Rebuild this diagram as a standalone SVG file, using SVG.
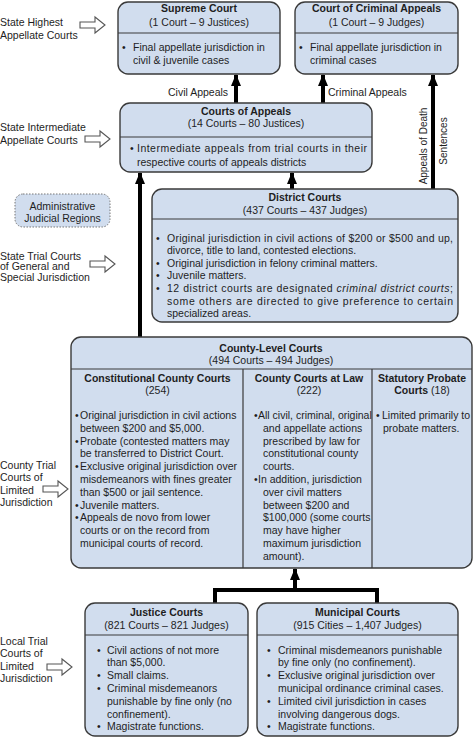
<svg xmlns="http://www.w3.org/2000/svg" width="474" height="738" viewBox="0 0 474 738">
<defs>
<style>
text{font-family:"Liberation Sans",Arial,sans-serif;font-size:10.5px;fill:#1e1e1e}
.b{font-weight:bold}
.c{text-anchor:middle}
.box{fill:#d1ddee;stroke:#3a3a3a;stroke-width:1.4}
.div{stroke:#3a3a3a;stroke-width:1.2;fill:none}
.conn{stroke:#000;stroke-width:4;fill:none}
.open{fill:#fff;stroke:#555;stroke-width:1.1}
</style>
<marker id="ah" viewBox="0 0 12 10" refX="11" refY="5" markerWidth="12" markerHeight="10" markerUnits="userSpaceOnUse" orient="auto">
<path d="M0,0 L12,5 L0,10 Z" fill="#000"/>
</marker>
<path id="oa" d="M0,-3 L15,-3 L15,-8 L25,0 L15,8 L15,3 L0,3 Z"/>
</defs>

<g id="labels">
<text x="0" y="26">State Highest</text>
<text x="0" y="39">Appellate Courts</text>
<use href="#oa" class="open" x="80" y="25"/>
<text x="0" y="131">State Intermediate</text>
<text x="0" y="144">Appellate Courts</text>
<use href="#oa" class="open" x="85" y="139"/>
<text x="0" y="259.5">State Trial Courts</text>
<text x="0" y="270">of General and</text>
<text x="0" y="281">Special Jurisdiction</text>
<use href="#oa" class="open" x="90" y="264"/>
<text x="0" y="468.5">County Trial</text>
<text x="0" y="481">Courts of</text>
<text x="0" y="493.5">Limited</text>
<text x="0" y="505.5">Jurisdiction</text>
<use href="#oa" class="open" x="43" y="489"/>
<text x="0" y="644.5">Local Trial</text>
<text x="0" y="657">Courts of</text>
<text x="0" y="670">Limited</text>
<text x="0" y="682">Jurisdiction</text>
<use href="#oa" class="open" x="47" y="667"/>
</g>

<g id="admin-regions">
<rect x="15" y="194" width="95" height="33" rx="8" fill="#d1ddee" stroke="#777" stroke-width="1" stroke-dasharray="1.5,1.5"/>
<text class="c" x="62.5" y="209.5">Administrative</text>
<text class="c" x="62.5" y="221.5">Judicial Regions</text>
</g>

<g id="connectors">
<line class="conn" x1="236" y1="103" x2="236" y2="75" marker-end="url(#ah)"/>
<line class="conn" x1="323" y1="103" x2="323" y2="75" marker-end="url(#ah)"/>
<line class="conn" x1="433" y1="189" x2="433" y2="75" marker-end="url(#ah)"/>
<line class="conn" x1="140" y1="337" x2="140" y2="173" marker-end="url(#ah)"/>
<line class="conn" x1="292" y1="189" x2="292" y2="173" marker-end="url(#ah)"/>
<polyline class="conn" points="215,603 215,590 377,590 377,603"/>
<line class="conn" x1="295" y1="590" x2="295" y2="569" marker-end="url(#ah)"/>
<text x="168" y="96">Civil Appeals</text>
<text x="328" y="96">Criminal Appeals</text>
<text class="c" style="font-size:10px" transform="translate(427,146) rotate(-90)">Appeals of Death</text>
<text class="c" style="font-size:10px" transform="translate(447,141) rotate(-90)">Sentences</text>
</g>

<g id="supreme-court">
<rect class="box" x="118" y="2" width="162" height="72" rx="10"/>
<line class="div" x1="118" y1="33" x2="280" y2="33"/>
<text class="c b" x="199" y="12">Supreme Court</text>
<text class="c" x="199" y="26">(1 Court – 9 Justices)</text>
<text x="122" y="50.5">•</text>
<text x="133" y="50.5">Final appellate jurisdiction in</text>
<text x="133" y="64">civil &amp; juvenile cases</text>
</g>

<g id="court-criminal-appeals">
<rect class="box" x="295" y="2" width="163" height="72" rx="10"/>
<line class="div" x1="295" y1="33" x2="458" y2="33"/>
<text class="c b" x="376.5" y="12">Court of Criminal Appeals</text>
<text class="c" x="376.5" y="26">(1 Court – 9 Judges)</text>
<text x="299" y="50.5">•</text>
<text x="310" y="50.5">Final appellate jurisdiction in</text>
<text x="310" y="64">criminal cases</text>
</g>

<g id="courts-of-appeals">
<rect class="box" x="120" y="103" width="252" height="69" rx="10"/>
<line class="div" x1="120" y1="137" x2="372" y2="137"/>
<text class="c b" x="246" y="115">Courts of Appeals</text>
<text class="c" x="246" y="127">(14 Courts – 80 Justices)</text>
<text x="130" y="152">•</text>
<text x="137" y="152" textLength="230" lengthAdjust="spacing">Intermediate appeals from trial courts in their</text>
<text x="137" y="165.5">respective courts of appeals districts</text>
</g>

<g id="district-courts">
<rect class="box" x="152" y="189" width="306" height="133" rx="10"/>
<line class="div" x1="152" y1="219" x2="458" y2="219"/>
<text class="c b" x="305" y="201">District Courts</text>
<text class="c" x="305" y="214">(437 Courts – 437 Judges)</text>
<text x="156" y="241.5">•</text>
<text x="167" y="241.5" textLength="286" lengthAdjust="spacing">Original jurisdiction in civil actions of $200 or $500 and up,</text>
<text x="167" y="254">divorce, title to land, contested elections.</text>
<text x="156" y="266.5">•</text>
<text x="167" y="266.5">Original jurisdiction in felony criminal matters.</text>
<text x="156" y="279">•</text>
<text x="167" y="279">Juvenile matters.</text>
<text x="156" y="292">•</text>
<text x="167" y="292" textLength="286" lengthAdjust="spacing">12 district courts are designated <tspan font-style="italic">criminal district courts</tspan>;</text>
<text x="167" y="304.5" textLength="286" lengthAdjust="spacing">some others are directed to give preference to certain</text>
<text x="167" y="317">specialized areas.</text>
</g>

<g id="county-level-courts">
<rect class="box" x="71" y="337" width="401" height="231" rx="10"/>
<line class="div" x1="71" y1="369" x2="472" y2="369"/>
<line class="div" x1="243" y1="369" x2="243" y2="568"/>
<line class="div" x1="372" y1="369" x2="372" y2="568"/>
<text class="c b" x="271" y="352">County-Level Courts</text>
<text class="c" x="271" y="364">(494 Courts – 494 Judges)</text>

<text class="c b" x="157.5" y="382">Constitutional County Courts</text>
<text class="c" x="157.5" y="394">(254)</text>
<text x="75" y="419">•</text>
<text x="80" y="419">Original jurisdiction in civil actions</text>
<text x="80" y="431.8">between $200 and $5,000.</text>
<text x="75" y="444.6">•</text>
<text x="80" y="444.6">Probate (contested matters may</text>
<text x="80" y="457.4">be transferred to District Court.</text>
<text x="75" y="470.2">•</text>
<text x="80" y="470.2">Exclusive original jurisdiction over</text>
<text x="80" y="483">misdemeanors with fines greater</text>
<text x="80" y="495.8">than $500 or jail sentence.</text>
<text x="75" y="508.6">•</text>
<text x="80" y="508.6">Juvenile matters.</text>
<text x="75" y="521.4">•</text>
<text x="80" y="521.4">Appeals de novo from lower</text>
<text x="80" y="534.2">courts or on the record from</text>
<text x="80" y="547">municipal courts of record.</text>

<text class="c b" x="309" y="382">County Courts at Law</text>
<text class="c" x="309" y="394">(222)</text>
<text x="254" y="419">•</text>
<text x="258" y="419">All civil, criminal, original</text>
<text x="263" y="431.8">and appellate actions</text>
<text x="263" y="444.6">prescribed by law for</text>
<text x="263" y="457.4">constitutional county</text>
<text x="263" y="470.2">courts.</text>
<text x="254" y="483">•</text>
<text x="258" y="483">In addition, jurisdiction</text>
<text x="263" y="495.8">over civil matters</text>
<text x="263" y="508.6">between $200 and</text>
<text x="263" y="521.4">$100,000 (some courts</text>
<text x="263" y="534.2">may have higher</text>
<text x="263" y="547">maximum jurisdiction</text>
<text x="263" y="559.8">amount).</text>

<text class="c b" x="422" y="382">Statutory Probate</text>
<text class="c" x="422" y="394"><tspan font-weight="bold">Courts</tspan> (18)</text>
<text x="376" y="419">•</text>
<text x="382" y="419">Limited primarily to</text>
<text x="383" y="431.8">probate matters.</text>
</g>

<g id="justice-courts">
<rect class="box" x="85" y="603" width="163" height="133" rx="10"/>
<line class="div" x1="85" y1="635" x2="248" y2="635"/>
<text class="c b" x="166.5" y="616">Justice Courts</text>
<text class="c" x="166.5" y="629">(821 Courts – 821 Judges)</text>
<text x="97" y="653.5">•</text>
<text x="107" y="653.5">Civil actions of not more</text>
<text x="107" y="666.3">than $5,000.</text>
<text x="97" y="679.1">•</text>
<text x="107" y="679.1">Small claims.</text>
<text x="97" y="691.9">•</text>
<text x="107" y="691.9">Criminal misdemeanors</text>
<text x="107" y="704.7">punishable by fine only (no</text>
<text x="107" y="717.5">confinement).</text>
<text x="97" y="730.3">•</text>
<text x="107" y="730.3">Magistrate functions.</text>
</g>

<g id="municipal-courts">
<rect class="box" x="257" y="603" width="201" height="133" rx="10"/>
<line class="div" x1="257" y1="635" x2="458" y2="635"/>
<text class="c b" x="357.5" y="616">Municipal Courts</text>
<text class="c" x="357.5" y="629">(915 Cities – 1,407 Judges)</text>
<text x="267" y="653.5">•</text>
<text x="278" y="653.5">Criminal misdemeanors punishable</text>
<text x="278" y="666.3">by fine only (no confinement).</text>
<text x="267" y="679.1">•</text>
<text x="278" y="679.1">Exclusive original jurisdiction over</text>
<text x="278" y="691.9">municipal ordinance criminal cases.</text>
<text x="267" y="704.7">•</text>
<text x="278" y="704.7">Limited civil jurisdiction in cases</text>
<text x="278" y="717.5">involving dangerous dogs.</text>
<text x="267" y="730.3">•</text>
<text x="278" y="730.3">Magistrate functions.</text>
</g>
</svg>
